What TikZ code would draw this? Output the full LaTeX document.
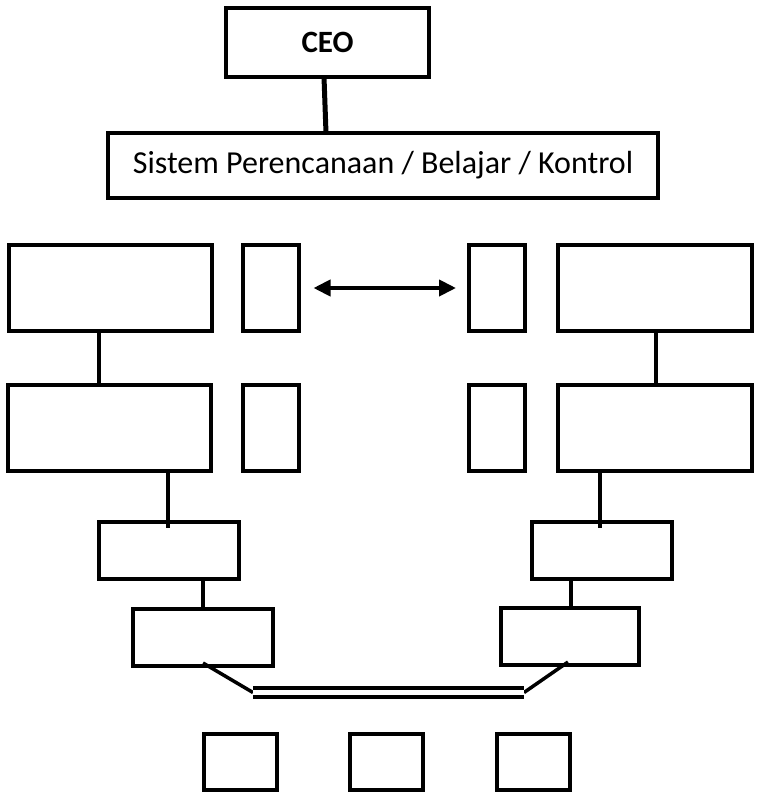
\documentclass[tikz,border=0pt]{standalone}
\usepackage{fontspec}
\setmainfont{Carlito}
\usetikzlibrary{arrows.meta}
\begin{document}
\begin{tikzpicture}[x=1pt,y=-1pt,
  box/.style n args={2}{draw, line width=4pt, inner sep=0pt, outer sep=0pt,
    minimum width=#1, minimum height=#2},
  bigbox/.style={box={203pt}{86pt}},
  smallbox/.style={box={56pt}{86pt}},
  midbox/.style={box={140pt}{57pt}},
  footbox/.style={box={73pt}{56pt}},
  conn/.style={line width=3.5pt},
  lbl/.style={font=\fontsize{32}{38}\selectfont},
  lblb/.style={font=\fontsize{31}{37}\selectfont\bfseries},
  dblline/.style={double, line width=3.5pt, double distance=5.5pt},
  twoway/.style={line width=4pt, {Triangle[length=17pt,width=16pt]}-{Triangle[length=17pt,width=16pt]}}
]
\useasboundingbox (0,0) rectangle (756,792);

% top
\node[box={203pt}{69pt}, lblb] (ceo) at (327.5,42.5) {CEO};
\node[box={550pt}{65pt}, lbl] (sys) at (383,165.5) {Sistem Perencanaan / Belajar / Kontrol};
\draw[line width=5pt] (ceo.south -| 324,0) -- (sys.north -| 326,0);

% row 1
\node[bigbox] (L1) at (110.5,288) {};
\node[smallbox] (S1) at (270.5,288) {};
\node[smallbox] (S3) at (497,288) {};
\node[box={194pt}{86pt}] (R1) at (655,288) {};
\draw[twoway, shorten <=15pt, shorten >=13pt] (S1.east) -- (S3.west);

% row 2
\node[bigbox] (L2) at (109.5,427.5) {};
\node[smallbox] (S2) at (270.5,427.5) {};
\node[smallbox] (S4) at (497,427.5) {};
\node[box={194pt}{86pt}] (R2) at (655,427.5) {};
\draw[conn] (L1.south -| 99,0) -- (L2.north -| 99,0);
\draw[conn] (R1.south -| 656,0) -- (R2.north -| 656,0);

% row 3
\node[midbox] (L3) at (169,550.5) {};
\node[midbox] (R3) at (602,550.5) {};
\draw[conn, shorten >=-6pt] (L2.south -| 168,0) -- (L3.north -| 168,0);
\draw[conn, shorten >=-6pt] (R2.south -| 600,0) -- (R3.north -| 600,0);

% row 4
\node[midbox] (L4) at (203,637.5) {};
\node[box={138pt}{57pt}] (R4) at (570,636.5) {};
\draw[conn] (L3.south -| 203,0) -- (L4.north -| 203,0);
\draw[conn] (R3.south -| 571,0) -- (R4.north -| 571,0);

% double bar
\coordinate (dl1) at (253,692.5);
\coordinate (dl2) at (524,692.5);
\draw[conn] ([yshift=3pt]L4.south) -- (dl1);
\draw[conn] ([xshift=-2pt,yshift=3pt]R4.south) -- (dl2);
\draw[dblline] (dl1) -- (dl2);

% bottom boxes
\node[footbox] (B1) at (240.5,762) {};
\node[footbox] (B2) at (386.5,762) {};
\node[footbox] (B3) at (533,762) {};
\end{tikzpicture}
\end{document}
